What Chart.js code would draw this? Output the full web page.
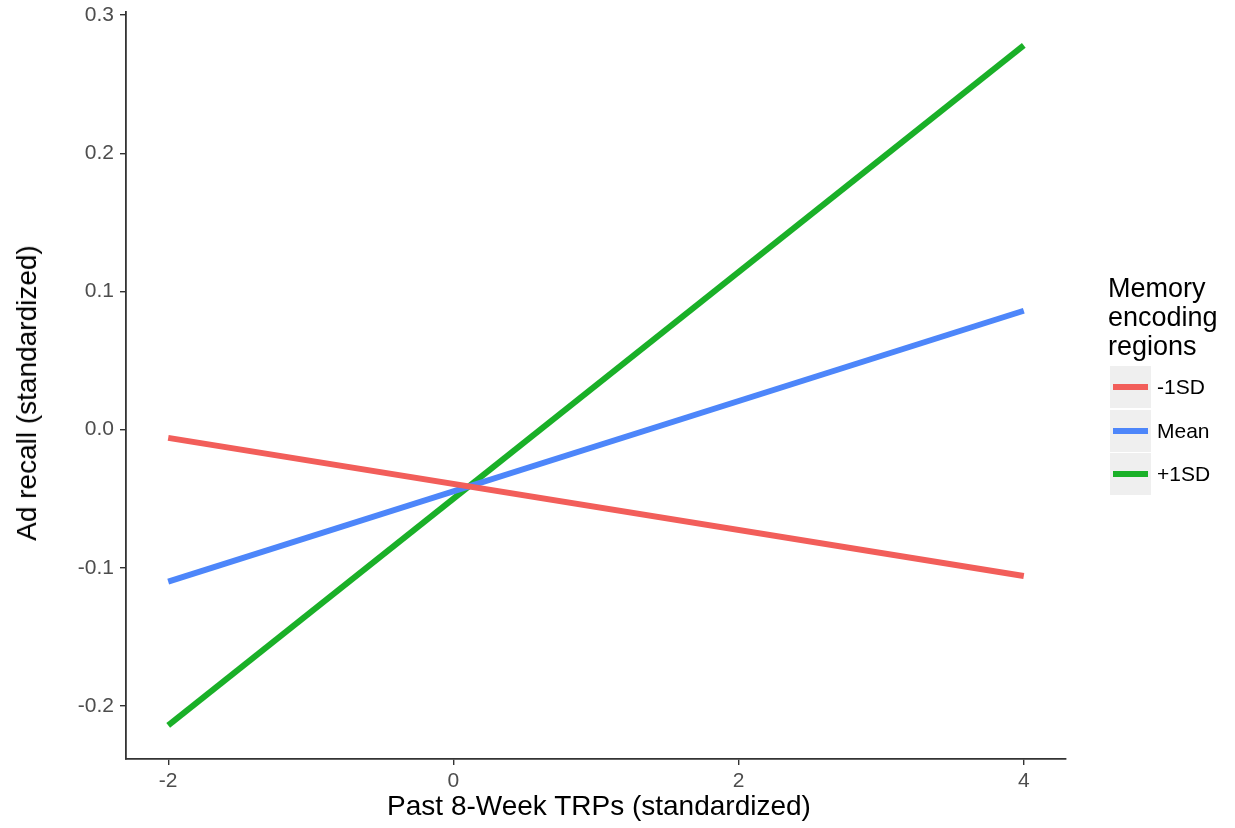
<!DOCTYPE html>
<html>
<head>
<meta charset="utf-8">
<script src="https://cdn.jsdelivr.net/npm/chart.js@4.4.1/dist/chart.umd.min.js"></script>
<style>
  html, body { margin: 0; padding: 0; background: #ffffff; }
  #wrap { position: relative; width: 1235px; height: 828px; }
  #c { position: absolute; left: 0; top: 0; }
  .ytitle { position: absolute; left: 27px; top: 393px; transform: translate(-50%, -50%) rotate(-90deg);
    font: 28px "Liberation Sans", Arial, sans-serif; color: #000; white-space: nowrap; }
  .xtitle { position: absolute; left: 599px; top: 806px; transform: translate(-50%, -50%);
    font: 28px "Liberation Sans", Arial, sans-serif; color: #000; white-space: nowrap; }
  #legend { position: absolute; left: 1108px; top: 274px; font-family: "Liberation Sans", Arial, sans-serif; }
  #legend .title { font-size: 27px; line-height: 29px; color: #000; margin-bottom: 5px; }
  #legend .item { position: relative; height: 42px; margin-bottom: 1.5px; }
  #legend .key { position: absolute; left: 2px; top: 0; width: 41px; height: 42px; background: #efefef; }
  #legend .key span { position: absolute; left: 3px; right: 3px; top: 18px; height: 6px; }
  #legend .lab { position: absolute; left: 49px; top: 9px; font-size: 21px; line-height: 24px; color: #000; white-space: nowrap; }
</style>
</head>
<body>
<div id="wrap">
  <canvas id="c" width="1235" height="828"></canvas>
  <div class="ytitle">Ad recall (standardized)</div>
  <div class="xtitle">Past 8-Week TRPs (standardized)</div>
  <div id="legend"></div>
</div>
<script>
// ---- data ----
const xValues = [-2, 4];
const seriesNames = ["-1SD", "Mean", "+1SD"];
const lowSD = [-0.006, -0.106];
const meanSD = [-0.110, 0.086];
const highSD = [-0.214, 0.278];
const xTickValues = [-2, 0, 2, 4];
const yTickValues = [-0.2, -0.1, 0.0, 0.1, 0.2, 0.3];
const legendTitle = ["Memory", "encoding", "regions"];

const colors = ["#F25E5A", "#4D86FA", "#1AB028"];
const seriesValues = [lowSD, meanSD, highSD];

const datasets = seriesValues.map((vals, i) => ({
  label: seriesNames[i],
  data: xValues.map((x, j) => ({ x: x, y: vals[j] })),
  borderColor: colors[i],
  backgroundColor: colors[i],
  borderWidth: 6,
  pointRadius: 0,
  borderCapStyle: 'butt',
  fill: false,
  tension: 0
}));

const tickFont = { family: '"Liberation Sans", Arial, sans-serif', size: 21 };

new Chart(document.getElementById('c'), {
  type: 'line',
  data: { datasets: datasets },
  options: {
    responsive: false,
    animation: false,
    layout: { padding: { top: 12, right: 169, left: 0, bottom: 0 } },
    plugins: { legend: { display: false }, tooltip: { enabled: false } },
    scales: {
      x: {
        type: 'linear',
        min: -2.296, max: 4.296,
        afterBuildTicks: (s) => { s.ticks = xTickValues.map(v => ({ value: v })); },
        afterFit: (s) => { s.height = 69; s.paddingLeft = 0; s.paddingRight = 0; },
        ticks: { font: tickFont, color: '#4d4d4d', padding: 4, maxRotation: 0,
                 callback: (v) => String(v) },
        grid: { display: true, drawOnChartArea: false, drawTicks: true, tickLength: 6, color: '#333333', lineWidth: 1.4 },
        border: { display: true, color: '#333333', width: 1.8 }
      },
      y: {
        type: 'linear',
        min: -0.2384, max: 0.3022,
        afterBuildTicks: (s) => { s.ticks = yTickValues.map(v => ({ value: v })); },
        afterFit: (s) => { s.width = 126; s.paddingTop = 0; s.paddingBottom = 0; },
        ticks: { font: tickFont, color: '#4d4d4d', padding: 6,
                 callback: (v) => Number(v).toFixed(1) },
        grid: { display: true, drawOnChartArea: false, drawTicks: true, tickLength: 6, color: '#333333', lineWidth: 1.4 },
        border: { display: true, color: '#333333', width: 1.8 }
      }
    }
  }
});

// ---- legend ----
const lg = document.getElementById('legend');
let html = '<div class="title">' + legendTitle.join('<br>') + '</div>';
seriesNames.forEach((n, i) => {
  html += '<div class="item"><div class="key"><span style="background:' + colors[i] + '"></span></div>' +
          '<div class="lab">' + n + '</div></div>';
});
lg.innerHTML = html;
</script>
</body>
</html>
